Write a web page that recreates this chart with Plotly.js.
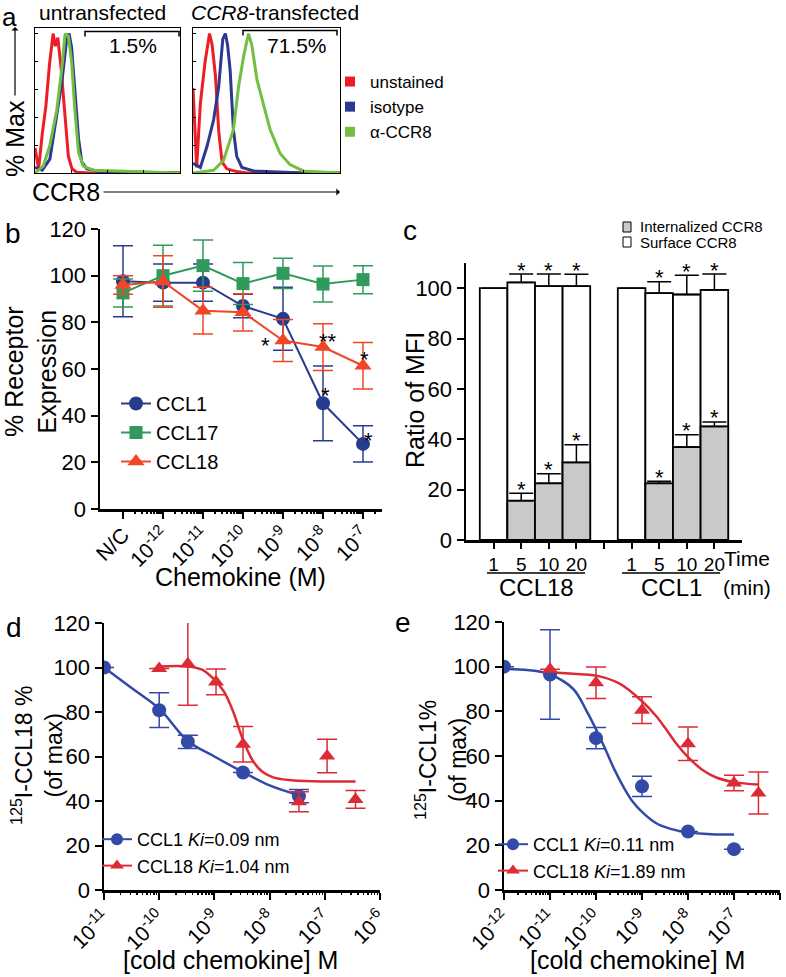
<!DOCTYPE html>
<html>
<head>
<meta charset="utf-8">
<script src="https://cdn.plot.ly/plotly-3.0.1.min.js"></script>
<style>
  body { margin: 0; background: #fff; }
  #chart { width: 786px; height: 977px; }
</style>
</head>
<body>
<div id="chart"></div>
<script>
// ---- panel a : flow histograms (x in log decades, y in % of max)
var aUntrRedX = [0.0, 0.1, 0.2, 0.3, 0.4, 0.5, 0.56, 0.63, 0.72, 0.82, 0.92, 1.02, 1.15, 1.5, 4.0];
var aUntrRedY = [18, 3, 28, 48, 78, 100, 91, 97, 75, 40, 12, 3, 0.5, 0, 0];
var aUntrBlueX = [0.0, 0.2, 0.41, 0.6, 0.74, 0.87, 0.94, 1.01, 1.1, 1.2, 1.29, 1.43, 1.8, 4.0];
var aUntrBlueY = [4, 2, 10, 40, 65, 95, 100, 90, 60, 25, 8, 3, 1, 0];
var aUntrGreenX = [0.0, 0.23, 0.41, 0.6, 0.74, 0.83, 0.92, 1.01, 1.1, 1.2, 1.33, 1.61, 4.0];
var aUntrGreenY = [0, 5, 20, 45, 75, 100, 98, 80, 45, 15, 5, 2, 0];
var aTrRedX = [0.0, 0.1, 0.2, 0.33, 0.45, 0.52, 0.61, 0.7, 0.79, 0.92, 1.19, 1.47, 4.0];
var aTrRedY = [61, 4, 50, 80, 100, 92, 70, 30, 8, 3, 1, 0, 0];
var aTrBlueX = [0.0, 0.2, 0.38, 0.56, 0.7, 0.81, 0.88, 0.94, 1.01, 1.1, 1.19, 1.33, 1.65, 2.37, 3.0, 4.0];
var aTrBlueY = [7, 4, 19, 38, 62, 96, 100, 92, 74, 31, 12, 4, 1.5, 0.5, 0, 0];
var aTrGreenX = [0.0, 0.56, 0.83, 1.1, 1.24, 1.38, 1.51, 1.6, 1.74, 1.92, 2.1, 2.37, 2.64, 3.0, 4.0];
var aTrGreenY = [0, 2, 9, 31, 62, 84, 100, 92, 67, 48, 31, 14, 6, 1.5, 0];
var aNames = ['unstained', 'isotype', '\u03b1-CCR8'];
var aGates = ['1.5%', '71.5%'];

// ---- panel b : % receptor expression
var bConc = [1e-13, 1e-12, 1e-11, 1e-10, 1e-9, 1e-8, 1e-7];   // first slot = N/C
var bTicks = ['N/C', '10<sup>-12</sup>', '10<sup>-11</sup>', '10<sup>-10</sup>', '10<sup>-9</sup>', '10<sup>-8</sup>', '10<sup>-7</sup>'];
var bCCL1 = [97.6, 97, 97, 87, 81.5, 45.3, 27.9];
var bCCL1Err = [15.2, 8, 8, 5, 13.5, 16, 7.8];
var bCCL17 = [92.6, 100, 104.3, 96.6, 101, 96.4, 98.3];
var bCCL17Err = [6, 13, 11, 9, 6.5, 7.7, 6];
var bCCL18 = [96, 97.5, 85, 84.3, 72.2, 69.4, 61.4];
var bCCL18Err = [4, 11, 10, 8, 9, 10, 10];

// ---- panel c : internalisation
var cPos = [0, 1, 2, 3, 5, 6, 7, 8];
var cTickVals = [0, 1, 2, 3, 4, 5, 6, 7, 8];
var cTickText = ['1', '5', '10', '20', '', '1', '5', '10', '20'];
var cSurface = [100, 102.3, 100.8, 100.8, 100, 98, 97.5, 99.3];
var cSurfaceErr = [0, 3.3, 4.8, 4.7, 0, 4.6, 7.6, 6.3];
var cInternal = [null, 15.6, 22.5, 30.8, null, 22.5, 36.9, 45.1];
var cInternalErr = [0, 3, 3.8, 7, 0, 0.8, 4.9, 1.8];
var cStar = [false, true, true, true, false, true, true, true];
var cNames = ['Internalized CCR8', 'Surface CCR8'];

// ---- panel d : 125I-CCL18 competition
var dCCL1X = [1e-11, 1e-10, 3.3e-10, 3.3e-9, 3.4e-8];
var dCCL1Y = [100, 80.8, 66.6, 52.8, 42.2];
var dCCL1Err = [0, 7.8, 3, 0, 3];
var dCCL18X = [1e-10, 3.3e-10, 1.07e-9, 3.3e-9, 3.4e-8, 1.1e-7, 3.6e-7];
var dCCL18Y = [99.5, 101.7, 93.5, 65.5, 39.7, 60.2, 40.7];
var dCCL18Err = [0, 18.7, 5.8, 8, 4.5, 7.5, 4];
var dFit1X = [1e-11, 3.16e-11, 1e-10, 3.3e-10, 1e-9, 3.3e-9, 1e-8, 3.4e-8];
var dFit1Y = [100, 90.8, 81.5, 67, 60, 53, 47, 42.6];
var dFit18X = [1e-10, 3.3e-10, 6e-10, 1e-9, 1.5e-9, 2.2e-9, 3.3e-9, 5e-9, 7.5e-9, 1.2e-8, 3.3e-8, 3.6e-7];
var dFit18Y = [100.5, 100.5, 99, 94.5, 89, 80, 67.5, 58, 53, 50.5, 49.1, 48.8];
var dNames = ['CCL1 <i>Ki</i>=0.09 nm', 'CCL18 <i>Ki</i>=1.04 nm'];

// ---- panel e : 125I-CCL1 competition
var eCCL1X = [1e-12, 1e-11, 1e-10, 1e-9, 1e-8, 1e-7];
var eCCL1Y = [100, 96.5, 68, 46.4, 26.2, 18.3];
var eCCL1Err = [0, 20, 4.8, 4.5, 0, 0];
var eCCL18X = [1e-11, 1e-10, 1e-9, 1e-8, 1e-7, 3.4e-7];
var eCCL18Y = [98.8, 92.8, 80.5, 65.5, 47.9, 43.4];
var eCCL18Err = [0, 7, 6, 7.5, 3.5, 9.4];
var eFit1X = [1e-12, 3.2e-12, 1e-11, 3.2e-11, 6.3e-11, 1e-10, 1.6e-10, 2.5e-10, 4e-10, 6.3e-10, 1e-9, 2e-9, 4e-9, 1e-8, 3.2e-8, 1e-7];
var eFit1Y = [99, 98.5, 96.5, 90, 80, 72, 63, 54, 46, 39.5, 35, 30, 27.5, 25.8, 25, 24.8];
var eFit18X = [1e-11, 3.2e-11, 1e-10, 3.2e-10, 1e-9, 2e-9, 3.2e-9, 5.6e-9, 1e-8, 2e-8, 4e-8, 1e-7, 3.4e-7];
var eFit18Y = [97.5, 96.8, 96, 92.5, 84.5, 78, 72.5, 65.5, 59.5, 54, 50.5, 48.3, 47.2];
var eNames = ['CCL1 <i>Ki</i>=0.11 nm', 'CCL18 <i>Ki</i>=1.89 nm'];

var logTicks11 = [1e-11, 1e-10, 1e-9, 1e-8, 1e-7, 1e-6];
var logText11 = ['10<sup>-11</sup>', '10<sup>-10</sup>', '10<sup>-9</sup>', '10<sup>-8</sup>', '10<sup>-7</sup>', '10<sup>-6</sup>'];
var logTicks12 = [1e-12].concat(logTicks11);
var logText12 = ['10<sup>-12</sup>'].concat(logText11);

// ---------------------------------------------------------------
var W = 786, H = 977;
var FONT = 'Liberation Sans, Arial, Helvetica, sans-serif';
function px(x) { return x / W; }
function py(y) { return 1 - y / H; }
function dx(a, b) { return [a / W, b / W]; }
function dy(top, bottom) { return [1 - bottom / H, 1 - top / H]; }

// minor tick spots (2..9 in each decade) for the log axes
function minorVals(lo, hi) {
  var v = [];
  for (var e = lo; e < hi; e++) for (var k = 2; k < 10; k++) v.push(k * Math.pow(10, e));
  return v;
}

var RED_A = '#ee1c25', BLUE_A = '#2b3990', GREEN_A = '#72bf44';
var B_BLUE = '#283c8e', B_GREEN = '#2f9a5c', B_RED = '#f04626';
var D_BLUE = '#3249a8', D_RED = '#dc2b34';

var traces = [];

// panel a
function hist(x, y, color, xa, ya) {
  traces.push({x: x, y: y, xaxis: xa, yaxis: ya, mode: 'lines', line: {color: color, width: 3},
    showlegend: false, hoverinfo: 'skip'});
}
hist(aUntrRedX, aUntrRedY, RED_A, 'x', 'y');
hist(aUntrBlueX, aUntrBlueY, BLUE_A, 'x', 'y');
hist(aUntrGreenX, aUntrGreenY, GREEN_A, 'x', 'y');
hist(aTrRedX, aTrRedY, RED_A, 'x2', 'y2');
hist(aTrBlueX, aTrBlueY, BLUE_A, 'x2', 'y2');
hist(aTrGreenX, aTrGreenY, GREEN_A, 'x2', 'y2');
[RED_A, BLUE_A, GREEN_A].forEach(function(c, i) {
  traces.push({x: [null], y: [null], xaxis: 'x', yaxis: 'y', mode: 'markers', name: aNames[i],
    marker: {symbol: 'square', size: 10, color: c}, legend: 'legend'});
});

// panel b
function bSeries(name, y, err, color, symbol, size) {
  traces.push({x: bConc, y: y, name: name, xaxis: 'x3', yaxis: 'y3', mode: 'lines+markers',
    line: {color: color, width: 2}, marker: {symbol: symbol, size: size, color: color},
    error_y: {type: 'data', array: err, color: color, thickness: 1.5, width: 10},
    legend: 'legend2'});
}
bSeries('CCL1', bCCL1, bCCL1Err, B_BLUE, 'circle', 14);
bSeries('CCL17', bCCL17, bCCL17Err, B_GREEN, 'square', 13);
bSeries('CCL18', bCCL18, bCCL18Err, B_RED, 'triangle-up', 15);

// panel c
var zeros = cPos.map(function() { return 0; });
traces.push({type: 'bar', x: cPos, y: cSurface, width: 1, xaxis: 'x4', yaxis: 'y4', name: cNames[1],
  marker: {color: '#ffffff', line: {color: '#000', width: 1.8}}, showlegend: false,
  error_y: {type: 'data', symmetric: false, array: cSurfaceErr, arrayminus: zeros, color: '#000', thickness: 1.5, width: 12}});
traces.push({type: 'bar', x: cPos, y: cInternal, width: 1, xaxis: 'x4', yaxis: 'y4', name: cNames[0],
  marker: {color: '#c9c9c9', line: {color: '#000', width: 1.8}}, showlegend: false,
  error_y: {type: 'data', symmetric: false, array: cInternalErr, arrayminus: zeros, color: '#000', thickness: 1.5, width: 12}});

// panels d and e
function fit(x, y, color, xa, ya) {
  traces.push({x: x, y: y, xaxis: xa, yaxis: ya, mode: 'lines', line: {color: color, width: 2.5, shape: 'spline', smoothing: 1},
    showlegend: false, hoverinfo: 'skip'});
}
function pts(x, y, err, color, symbol, xa, ya) {
  traces.push({x: x, y: y, xaxis: xa, yaxis: ya, mode: 'markers', marker: {symbol: symbol, size: 14, color: color},
    error_y: {type: 'data', array: err, color: color, thickness: 1.5, width: 10}, showlegend: false});
}
function leg(name, color, symbol, lg, xa, ya) {
  traces.push({x: [null], y: [null], xaxis: xa, yaxis: ya, mode: 'lines+markers', name: name,
    line: {color: color, width: 2}, marker: {symbol: symbol, size: 12, color: color}, legend: lg});
}
fit(dFit1X, dFit1Y, D_BLUE, 'x5', 'y5');
fit(dFit18X, dFit18Y, D_RED, 'x5', 'y5');
pts(dCCL1X, dCCL1Y, dCCL1Err, D_BLUE, 'circle', 'x5', 'y5');
pts(dCCL18X, dCCL18Y, dCCL18Err, D_RED, 'triangle-up', 'x5', 'y5');
leg(dNames[0], D_BLUE, 'circle', 'legend4', 'x5', 'y5');
leg(dNames[1], D_RED, 'triangle-up', 'legend4', 'x5', 'y5');

fit(eFit1X, eFit1Y, D_BLUE, 'x6', 'y6');
fit(eFit18X, eFit18Y, D_RED, 'x6', 'y6');
pts(eCCL1X, eCCL1Y, eCCL1Err, D_BLUE, 'circle', 'x6', 'y6');
pts(eCCL18X, eCCL18Y, eCCL18Err, D_RED, 'triangle-up', 'x6', 'y6');
leg(eNames[0], D_BLUE, 'circle', 'legend5', 'x6', 'y6');
leg(eNames[1], D_RED, 'triangle-up', 'legend5', 'x6', 'y6');

// empty traces so the minor-tick overlay axes get drawn
[['x7', 'y3'], ['x8', 'y5'], ['x9', 'y6']].forEach(function(p) {
  traces.push({x: [null], y: [null], xaxis: p[0], yaxis: p[1], mode: 'markers', showlegend: false, hoverinfo: 'skip'});
});

// ---- axes
function axis(extra) {
  var base = {showline: true, linecolor: '#000', linewidth: 2.5, ticks: 'outside', ticklen: 7, tickwidth: 2,
    tickcolor: '#000', showgrid: false, zeroline: false, fixedrange: true,
    tickfont: {family: FONT, size: 22, color: '#000'}};
  for (var k in extra) base[k] = extra[k];
  return base;
}
function minorAxis(over, anchor, range, lo, hi) {
  return {type: 'log', overlaying: over, anchor: anchor, range: range, tickmode: 'array', tickvals: minorVals(lo, hi),
    showticklabels: false, ticks: 'outside', ticklen: 4, tickwidth: 1.5, tickcolor: '#000',
    showline: false, showgrid: false, zeroline: false, fixedrange: true};
}
var xTickFont = {family: FONT, size: 21, color: '#000'};
var boxX = {showline: true, mirror: true, linecolor: '#000', linewidth: 1.2, ticks: 'inside', ticklen: 3,
  tickcolor: '#000', tickvals: [0, 1, 2, 3, 4], showticklabels: false, showgrid: false, zeroline: false, range: [0, 4]};
var boxY = {showline: true, mirror: true, linecolor: '#000', linewidth: 1.2, ticks: 'inside', ticklen: 3,
  tickcolor: '#000', tickvals: [0, 20, 40, 60, 80, 100], showticklabels: false, showgrid: false, zeroline: false, range: [0, 104]};

var bRange = [-13.575, -6.525], dRange = [-11, -6], eRange = [-12, -6];

var layout = {
  width: W, height: H,
  margin: {l: 0, r: 0, t: 0, b: 0},
  paper_bgcolor: '#fff', plot_bgcolor: 'rgba(0,0,0,0)',
  font: {family: FONT, color: '#000'},
  barmode: 'overlay',
  xaxis: Object.assign({}, boxX, {domain: dx(35, 180), anchor: 'y'}),
  yaxis: Object.assign({}, boxY, {domain: dy(28, 173), anchor: 'x'}),
  xaxis2: Object.assign({}, boxX, {domain: dx(193, 340), anchor: 'y2'}),
  yaxis2: Object.assign({}, boxY, {domain: dy(28, 173), anchor: 'x2'}),
  xaxis3: axis({type: 'log', domain: dx(100, 382), anchor: 'y3', range: bRange, ticklabelstandoff: -4,
    tickmode: 'array', tickvals: bConc, ticktext: bTicks, tickangle: -45, tickfont: xTickFont}),
  yaxis3: axis({domain: dy(229, 509), anchor: 'x3', range: [0, 120], dtick: 20}),
  xaxis4: axis({domain: dx(466, 742), anchor: 'y4', range: [-1, 9], tickmode: 'array', tickvals: cTickVals, ticktext: cTickText,
    ticklen: 6, tickfont: {family: FONT, size: 19, color: '#000'}}),
  yaxis4: axis({domain: dy(263, 540), anchor: 'x4', range: [0, 110], tickvals: [0, 20, 40, 60, 80, 100]}),
  xaxis5: axis({type: 'log', domain: dx(104, 380), anchor: 'y5', range: dRange, tickmode: 'array', ticklabelstandoff: -2,
    tickvals: logTicks11, ticktext: logText11, tickangle: -45, tickfont: xTickFont}),
  yaxis5: axis({domain: dy(623, 890), anchor: 'x5', range: [0, 120], dtick: 20}),
  xaxis6: axis({type: 'log', domain: dx(504, 780), anchor: 'y6', range: eRange, tickmode: 'array', ticklabelstandoff: -2,
    tickvals: logTicks12, ticktext: logText12, tickangle: -45, tickfont: xTickFont}),
  yaxis6: axis({domain: dy(622, 890), anchor: 'x6', range: [0, 120], dtick: 20}),
  xaxis7: minorAxis('x3', 'y3', bRange, -13, -6),
  xaxis8: minorAxis('x5', 'y5', dRange, -11, -6),
  xaxis9: minorAxis('x6', 'y6', eRange, -12, -6),
  legend: {x: px(330), y: py(64), xanchor: 'left', yanchor: 'top', font: {size: 17}, bgcolor: 'rgba(0,0,0,0)', tracegroupgap: 0},
  legend2: {x: px(116), y: py(384), xanchor: 'left', yanchor: 'top', font: {size: 20}, bgcolor: 'rgba(0,0,0,0)'},
  legend4: {x: px(97), y: py(821), xanchor: 'left', yanchor: 'top', font: {size: 18}, bgcolor: 'rgba(0,0,0,0)'},
  legend5: {x: px(493), y: py(826), xanchor: 'left', yanchor: 'top', font: {size: 18}, bgcolor: 'rgba(0,0,0,0)'},
  annotations: [],
  shapes: []
};

function note(text, x, y, size, extra) {
  var a = {text: text, x: px(x), y: py(y), xref: 'paper', yref: 'paper', showarrow: false,
    xanchor: 'center', yanchor: 'middle', font: {family: FONT, size: size, color: '#000'}};
  for (var k in extra) a[k] = extra[k];
  layout.annotations.push(a);
}

// panel letters and texts
note('a', 9, 0, 26, {yanchor: 'top'});
note('untransfected', 102, 12, 21);
note('<i>CCR8</i>-transfected', 275, 12, 21);
note(aGates[0], 133, 45, 21);
note(aGates[1], 297, 45, 21);
note('% Max', 15, 139, 25, {textangle: -90});
note('CCR8', 66, 192, 25);
note('b', 13, 233, 28);
note('% Receptor<br>Expression', 31, 372, 25, {textangle: -90});
note('Chemokine (M)', 240, 577, 25);
note('c', 410, 230, 28);
note('Ratio of MFI', 415, 400, 25, {textangle: -90});
note('Time', 747, 558, 21);
note('(min)', 747, 587, 21);
note('CCL18', 536, 587, 24);
note('CCL1', 671, 587, 24);
note('d', 14, 627, 28);
note('<sup>125</sup>I-CCL18 %<br>(of max)', 37, 756, 23, {textangle: -90});
note('[cold chemokine] M', 230, 960, 25);
note('e', 403, 622, 28);
note('<sup>125</sup>I-CCL1%<br>(of max)', 441, 760, 23, {textangle: -90});
note('[cold chemokine] M', 637, 960, 25);

// legend of panel c, drawn by hand to keep its tight spacing
note(cNames[0], 638, 227, 15, {xanchor: 'left'});
note(cNames[1], 638, 242, 15, {xanchor: 'left'});
layout.shapes.push({type: 'rect', xref: 'paper', yref: 'paper', x0: px(623), x1: px(631), y0: py(232), y1: py(222),
  fillcolor: '#c9c9c9', line: {color: '#000', width: 1}});
layout.shapes.push({type: 'rect', xref: 'paper', yref: 'paper', x0: px(623), x1: px(631), y0: py(247), y1: py(237),
  fillcolor: '#ffffff', line: {color: '#000', width: 1}});

// arrows of panel a
layout.annotations.push({x: px(15), y: py(27), xref: 'paper', yref: 'paper', ax: 0, ay: 70, text: '',
  showarrow: true, arrowhead: 1, arrowsize: 1, arrowwidth: 1.2, arrowcolor: '#000'});
layout.annotations.push({x: px(340), y: py(192), xref: 'paper', yref: 'paper', ax: -238, ay: 0, text: '',
  showarrow: true, arrowhead: 1, arrowsize: 1, arrowwidth: 1.2, arrowcolor: '#000'});

// gate brackets
function bracket(x0, x1, y, drop) {
  layout.shapes.push({type: 'path', xref: 'paper', yref: 'paper',
    path: 'M' + px(x0) + ',' + py(y + drop) + ' L' + px(x0) + ',' + py(y) + ' L' + px(x1) + ',' + py(y) + ' L' + px(x1) + ',' + py(y + drop),
    line: {color: '#000', width: 1.5}});
}
bracket(85, 179, 31.5, 5);
bracket(243, 337, 30.5, 5);

// group lines under panel c
function hline(x0, x1, y) {
  layout.shapes.push({type: 'line', xref: 'paper', yref: 'paper', x0: px(x0), x1: px(x1), y0: py(y), y1: py(y),
    line: {color: '#000', width: 1.5}});
}
hline(487, 585, 573);
hline(622, 720, 573);

// asterisks
function star(text, xa, ya, x, y, xs, ys) {
  layout.annotations.push({text: text, xref: xa, yref: ya, x: x, y: y, xshift: xs, yshift: ys, showarrow: false,
    xanchor: 'center', yanchor: 'middle', font: {family: FONT, size: 22, color: '#000'}});
}
star('*', 'x3', 'y3', Math.log10(bConc[4]), bCCL18[4], -18, -5);
star('**', 'x3', 'y3', Math.log10(bConc[5]), bCCL18[5], 5, 6);
star('*', 'x3', 'y3', Math.log10(bConc[6]), bCCL18[6], 1, 6);
star('*', 'x3', 'y3', Math.log10(bConc[5]), bCCL1[5], 2, 8);
star('*', 'x3', 'y3', Math.log10(bConc[6]), bCCL1[6], 5, 3);

cPos.forEach(function(p, i) {
  if (!cStar[i]) return;
  star('*', 'x4', 'y4', p, cSurface[i] + cSurfaceErr[i], 0, 4);
  star('*', 'x4', 'y4', p, cInternal[i] + cInternalErr[i], 0, 4);
});

Plotly.newPlot('chart', traces, layout, {staticPlot: true});
</script>
</body>
</html>
